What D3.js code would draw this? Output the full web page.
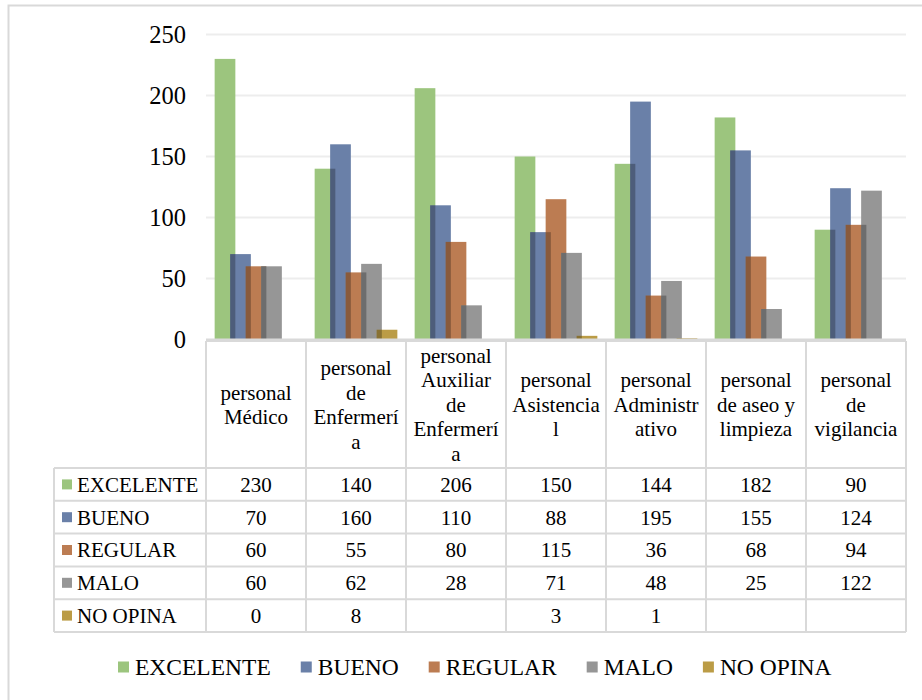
<!DOCTYPE html>
<html>
<head>
<meta charset="utf-8">
<script src="https://cdn.jsdelivr.net/npm/d3@7/dist/d3.min.js"></script>
</head>
<body style="margin:0">
<svg id="survey-fig" width="922" height="700" font-family="serif"></svg>
<script>
// Category header text, split into the lines shown in the data table
const categoryLines = [
  ["personal", "Médico"],
  ["personal", "de", "Enfermerí", "a"],
  ["personal", "Auxiliar", "de", "Enfermerí", "a"],
  ["personal", "Asistencia", "l"],
  ["personal", "Administr", "ativo"],
  ["personal", "de aseo y", "limpieza"],
  ["personal", "de", "vigilancia"]
];
const seriesNames = ["EXCELENTE", "BUENO", "REGULAR", "MALO", "NO OPINA"];
const excelente = [230, 140, 206, 150, 144, 182, 90];
const bueno     = [70, 160, 110, 88, 195, 155, 124];
const regular   = [60, 55, 80, 115, 36, 68, 94];
const malo      = [60, 62, 28, 71, 48, 25, 122];
const noOpina   = [0, 8, null, 3, 1, null, null];
const yTicks    = [0, 50, 100, 150, 200, 250];
const colors    = ["#9cc57e", "#6a80a8", "#bc7c52", "#969696", "#bb9c46"];

const seriesValues = [excelente, bueno, regular, malo, noOpina];
const FONT = "serif";

const svg = d3.select("#survey-fig");

// every label uses the same serif face
function label(sel, size) {
  return sel.attr("font-family", FONT)
    .attr("font-size", size).attr("fill", "#000");
}

// outer frame of the chart area
svg.append("rect")
  .attr("x", 8.5).attr("y", 5.5)
  .attr("width", 930).attr("height", 710)
  .attr("fill", "#fff").attr("stroke", "#d9d9d9").attr("stroke-width", 2);

const plotLeft = 206, plotRight = 906;
const x = d3.scaleBand().domain(d3.range(categoryLines.length)).range([plotLeft, plotRight]).padding(0);
const y = d3.scaleLinear().domain([0, 250]).range([339.5, 34.5]);

// horizontal gridlines
svg.append("g").selectAll("line")
  .data(yTicks.filter(t => t > 0))
  .join("line")
  .attr("x1", plotLeft).attr("x2", plotRight)
  .attr("y1", d => y(d)).attr("y2", d => y(d))
  .attr("stroke", "#ededed").attr("stroke-width", 2);

// y axis labels
const yAxis = svg.append("g")
  .attr("transform", `translate(${plotLeft},0)`)
  .call(d3.axisLeft(y).tickValues(yTicks).tickSize(0).tickPadding(20));
yAxis.attr("font-family", FONT).attr("font-size", 24.5);
yAxis.select(".domain").remove();
label(yAxis.selectAll("text"), 24.5);

// overlapping clustered bars
const bw = x.bandwidth();
const barW = bw * 0.207;
const step = bw * 0.155;
const groupW = (seriesNames.length - 1) * step + barW;
const slot = d3.scalePoint().domain(seriesNames).range([0, (seriesNames.length - 1) * step]);
const barX = (ci, s) => x(ci) + (bw - groupW) / 2 + slot(s);

const barData = [];
seriesNames.forEach((s, si) => {
  seriesValues[si].forEach((v, ci) => {
    if (v !== null && v > 0) barData.push({ s, si, ci, v });
  });
});

const barsG = svg.append("g");
barsG.selectAll("rect.bar")
  .data(barData)
  .join("rect")
  .attr("class", "bar")
  .attr("x", d => barX(d.ci, d.s))
  .attr("y", d => y(d.v))
  .attr("width", barW)
  .attr("height", d => y(0) - y(d.v))
  .attr("fill", d => colors[d.si]);

// darker strip where a bar overlaps the previous one in its cluster
const overlaps = [];
barData.forEach(d => {
  if (d.si === 0) return;
  const prev = seriesValues[d.si - 1][d.ci];
  if (prev === null || prev <= 0) return;
  overlaps.push({ ci: d.ci, s: d.s, prevS: seriesNames[d.si - 1], h: Math.min(prev, d.v) });
});
barsG.selectAll("rect.ov")
  .data(overlaps)
  .join("rect")
  .attr("class", "ov")
  .attr("x", d => barX(d.ci, d.s))
  .attr("y", d => y(d.h))
  .attr("width", d => barX(d.ci, d.prevS) + barW - barX(d.ci, d.s))
  .attr("height", d => y(0) - y(d.h))
  .attr("fill", "#000").attr("fill-opacity", 0.27);

// data table below the plot
const tableTop = 341, headerBottom = 468, rowH = 32.8;
const labelLeft = 54;
const nRows = seriesNames.length;
const tableBottom = headerBottom + nRows * rowH;
const gridColor = "#d9d9d9";
const tg = svg.append("g");

// axis base line
tg.append("line")
  .attr("x1", plotLeft).attr("x2", plotRight)
  .attr("y1", y(0) + 0.8).attr("y2", y(0) + 0.8)
  .attr("stroke", gridColor).attr("stroke-width", 3.5);

// vertical column borders
const colEdges = d3.range(categoryLines.length + 1).map(i => plotLeft + i * bw);
tg.selectAll("line.v")
  .data(colEdges)
  .join("line")
  .attr("x1", d => d).attr("x2", d => d)
  .attr("y1", tableTop).attr("y2", tableBottom)
  .attr("stroke", gridColor).attr("stroke-width", 2);
tg.append("line")
  .attr("x1", labelLeft).attr("x2", labelLeft)
  .attr("y1", headerBottom).attr("y2", tableBottom)
  .attr("stroke", gridColor).attr("stroke-width", 2);

// horizontal row borders
const rowEdges = d3.range(nRows + 1).map(i => headerBottom + i * rowH);
tg.selectAll("line.h")
  .data(rowEdges)
  .join("line")
  .attr("x1", labelLeft).attr("x2", plotRight)
  .attr("y1", d => d).attr("y2", d => d)
  .attr("stroke", gridColor).attr("stroke-width", 2);

// header cells: wrapped category names
const lineH = 24.5;
const headerMid = (tableTop + headerBottom) / 2;
categoryLines.forEach((lines, ci) => {
  const y0 = headerMid - (lines.length - 1) * lineH / 2;
  lines.forEach((ln, li) => {
    label(tg.append("text"), 21)
      .attr("text-anchor", "middle")
      .attr("x", x(ci) + bw / 2)
      .attr("y", y0 + li * lineH)
      .attr("dy", "0.35em")
      .text(ln);
  });
});

// series rows: key, name and values
seriesNames.forEach((s, si) => {
  const cy = headerBottom + si * rowH + rowH / 2;
  tg.append("rect")
    .attr("x", 62).attr("y", cy - 5)
    .attr("width", 10).attr("height", 10)
    .attr("fill", colors[si]);
  label(tg.append("text"), 21)
    .attr("x", 77).attr("y", cy).attr("dy", "0.35em")
    .text(s);
  seriesValues[si].forEach((v, ci) => {
    if (v === null) return;
    label(tg.append("text"), 21)
      .attr("x", x(ci) + bw / 2).attr("y", cy).attr("dy", "0.35em")
      .attr("text-anchor", "middle")
      .text(v);
  });
});

// legend along the bottom
const legend = svg.append("g");
const legY = 667;
let lx = 118;
seriesNames.forEach((s, si) => {
  legend.append("rect")
    .attr("x", lx).attr("y", legY - 5.5)
    .attr("width", 11).attr("height", 11)
    .attr("fill", colors[si]);
  const t = label(legend.append("text"), 23.5)
    .attr("x", lx + 17).attr("y", legY).attr("dy", "0.35em")
    .text(s);
  lx += 17 + t.node().getComputedTextLength() + 30;
});
</script>
</body>
</html>
